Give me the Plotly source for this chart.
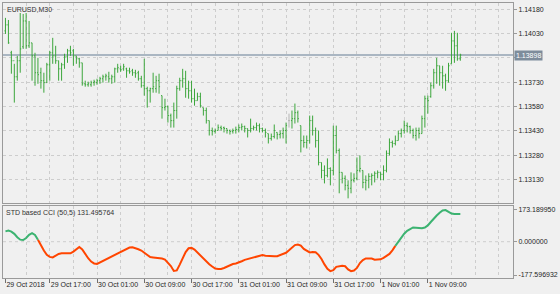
import plotly.graph_objects as go

# ---------------- data ----------------
SYMBOL_TITLE = "EURUSD,M30"
IND_TITLE = "STD based CCI (50,5) 131.495764"

OPEN = [1.14047, 1.14084, 1.13912, 1.13863, 1.13764, 1.13863, 1.13949, 1.14108, 1.13955, 1.13973,
        1.13893, 1.13789, 1.13789, 1.13740, 1.13728, 1.13838, 1.13912, 1.13893, 1.13863, 1.13813,
        1.13838, 1.13887, 1.13924, 1.13924, 1.13893, 1.13875, 1.13850, 1.13721, 1.13715, 1.13715,
        1.13728, 1.13728, 1.13740, 1.13752, 1.13764, 1.13764, 1.13752, 1.13764, 1.13813, 1.13813,
        1.13813, 1.13813, 1.13801, 1.13801, 1.13789, 1.13789, 1.13752, 1.13709, 1.13691, 1.13678,
        1.13691, 1.13691, 1.13740, 1.13648, 1.13574, 1.13580, 1.13525, 1.13494, 1.13556, 1.13691,
        1.13740, 1.13752, 1.13691, 1.13678, 1.13629, 1.13617, 1.13642, 1.13574, 1.13556, 1.13494,
        1.13433, 1.13427, 1.13433, 1.13451, 1.13451, 1.13445, 1.13433, 1.13427, 1.13433, 1.13439,
        1.13451, 1.13457, 1.13445, 1.13433, 1.13445, 1.13451, 1.13463, 1.13445, 1.13433, 1.13414,
        1.13384, 1.13396, 1.13421, 1.13408, 1.13414, 1.13433, 1.13494, 1.13494, 1.13506, 1.13543,
        1.13463, 1.13371, 1.13359, 1.13371, 1.13494, 1.13433, 1.13371, 1.13236, 1.13187, 1.13156,
        1.13199, 1.13187, 1.13402, 1.13310, 1.13175, 1.13138, 1.13095, 1.13077, 1.13126, 1.13138,
        1.13187, 1.13187, 1.13113, 1.13126, 1.13150, 1.13156, 1.13169, 1.13175, 1.13163, 1.13187,
        1.13292, 1.13359, 1.13353, 1.13371, 1.13414, 1.13433, 1.13463, 1.13457, 1.13433, 1.13402,
        1.13433, 1.13414, 1.13506, 1.13629, 1.13642, 1.13709, 1.13789, 1.13832, 1.13789, 1.13770,
        1.13740, 1.13844, 1.13985, 1.13955, 1.13875]

HIGH = [1.14127, 1.14114, 1.13924, 1.13844, 1.13893, 1.14157, 1.14151, 1.14157, 1.14108, 1.13973,
        1.13912, 1.13881, 1.13820, 1.13789, 1.13850, 1.13924, 1.14004, 1.13955, 1.13863, 1.13850,
        1.13906, 1.13936, 1.13955, 1.13936, 1.13893, 1.13881, 1.13850, 1.13740, 1.13734, 1.13740,
        1.13746, 1.13752, 1.13764, 1.13777, 1.13783, 1.13795, 1.13777, 1.13820, 1.13844, 1.13832,
        1.13844, 1.13820, 1.13820, 1.13813, 1.13807, 1.13801, 1.13770, 1.13875, 1.13703, 1.13697,
        1.13789, 1.13770, 1.13783, 1.13648, 1.13629, 1.13586, 1.13537, 1.13605, 1.13709, 1.13758,
        1.13813, 1.13801, 1.13740, 1.13740, 1.13691, 1.13666, 1.13666, 1.13574, 1.13574, 1.13494,
        1.13451, 1.13445, 1.13470, 1.13463, 1.13457, 1.13445, 1.13439, 1.13445, 1.13457, 1.13470,
        1.13476, 1.13463, 1.13445, 1.13506, 1.13463, 1.13482, 1.13476, 1.13451, 1.13445, 1.13414,
        1.13414, 1.13470, 1.13421, 1.13433, 1.13451, 1.13482, 1.13537, 1.13556, 1.13599, 1.13556,
        1.13463, 1.13402, 1.13402, 1.13525, 1.13525, 1.13451, 1.13433, 1.13236, 1.13218, 1.13261,
        1.13206, 1.13463, 1.13463, 1.13322, 1.13175, 1.13156, 1.13126, 1.13175, 1.13169, 1.13267,
        1.13279, 1.13187, 1.13156, 1.13169, 1.13169, 1.13181, 1.13187, 1.13175, 1.13218, 1.13310,
        1.13384, 1.13371, 1.13402, 1.13433, 1.13445, 1.13494, 1.13482, 1.13463, 1.13445, 1.13451,
        1.13451, 1.13525, 1.13648, 1.13648, 1.13728, 1.13813, 1.13881, 1.13832, 1.13832, 1.13783,
        1.13850, 1.14035, 1.14047, 1.14035, 1.13906]

LOW = [1.14028, 1.13967, 1.13783, 1.13605, 1.13740, 1.13789, 1.13936, 1.13936, 1.13942, 1.13740,
       1.13709, 1.13721, 1.13691, 1.13666, 1.13728, 1.13740, 1.13844, 1.13844, 1.13740, 1.13740,
       1.13813, 1.13850, 1.13893, 1.13832, 1.13844, 1.13820, 1.13709, 1.13703, 1.13703, 1.13703,
       1.13709, 1.13715, 1.13721, 1.13728, 1.13740, 1.13728, 1.13721, 1.13728, 1.13789, 1.13795,
       1.13801, 1.13758, 1.13783, 1.13770, 1.13758, 1.13740, 1.13697, 1.13648, 1.13574, 1.13605,
       1.13666, 1.13666, 1.13660, 1.13506, 1.13556, 1.13482, 1.13451, 1.13451, 1.13506, 1.13678,
       1.13697, 1.13635, 1.13629, 1.13605, 1.13586, 1.13617, 1.13574, 1.13525, 1.13476, 1.13402,
       1.13402, 1.13414, 1.13433, 1.13433, 1.13421, 1.13414, 1.13408, 1.13414, 1.13414, 1.13421,
       1.13433, 1.13421, 1.13390, 1.13421, 1.13433, 1.13433, 1.13421, 1.13421, 1.13390, 1.13353,
       1.13371, 1.13384, 1.13378, 1.13384, 1.13384, 1.13353, 1.13451, 1.13445, 1.13476, 1.13482,
       1.13298, 1.13328, 1.13322, 1.13353, 1.13402, 1.13328, 1.13218, 1.13138, 1.13107, 1.13144,
       1.13095, 1.13156, 1.13292, 1.13046, 1.13107, 1.13064, 1.13015, 1.13046, 1.13113, 1.13126,
       1.13175, 1.13077, 1.13064, 1.13077, 1.13095, 1.13113, 1.13138, 1.13126, 1.13126, 1.13175,
       1.13279, 1.13328, 1.13341, 1.13371, 1.13390, 1.13414, 1.13421, 1.13414, 1.13384, 1.13371,
       1.13384, 1.13414, 1.13451, 1.13537, 1.13635, 1.13691, 1.13721, 1.13709, 1.13691, 1.13678,
       1.13728, 1.13844, 1.13850, 1.13863, 1.13863]

CLOSE = [1.14084, 1.13973, 1.13863, 1.13764, 1.13863, 1.13936, 1.14108, 1.13955, 1.13973, 1.13893,
         1.13789, 1.13777, 1.13740, 1.13728, 1.13838, 1.13912, 1.13893, 1.13863, 1.13813, 1.13838,
         1.13887, 1.13924, 1.13912, 1.13893, 1.13875, 1.13850, 1.13721, 1.13715, 1.13721, 1.13728,
         1.13734, 1.13740, 1.13752, 1.13764, 1.13770, 1.13752, 1.13764, 1.13813, 1.13820, 1.13807,
         1.13826, 1.13801, 1.13795, 1.13789, 1.13783, 1.13752, 1.13709, 1.13691, 1.13678, 1.13691,
         1.13703, 1.13740, 1.13703, 1.13574, 1.13580, 1.13525, 1.13494, 1.13556, 1.13691, 1.13740,
         1.13752, 1.13691, 1.13678, 1.13629, 1.13617, 1.13642, 1.13586, 1.13556, 1.13494, 1.13433,
         1.13427, 1.13433, 1.13451, 1.13445, 1.13445, 1.13433, 1.13427, 1.13433, 1.13439, 1.13451,
         1.13457, 1.13445, 1.13433, 1.13445, 1.13451, 1.13463, 1.13445, 1.13433, 1.13421, 1.13384,
         1.13396, 1.13433, 1.13408, 1.13414, 1.13433, 1.13463, 1.13494, 1.13506, 1.13543, 1.13506,
         1.13371, 1.13359, 1.13371, 1.13494, 1.13433, 1.13371, 1.13236, 1.13187, 1.13156, 1.13199,
         1.13187, 1.13402, 1.13310, 1.13175, 1.13138, 1.13095, 1.13077, 1.13126, 1.13138, 1.13187,
         1.13199, 1.13113, 1.13126, 1.13150, 1.13156, 1.13169, 1.13175, 1.13163, 1.13187, 1.13292,
         1.13359, 1.13353, 1.13371, 1.13414, 1.13433, 1.13463, 1.13457, 1.13433, 1.13402, 1.13433,
         1.13414, 1.13506, 1.13629, 1.13617, 1.13709, 1.13789, 1.13832, 1.13789, 1.13770, 1.13740,
         1.13832, 1.13985, 1.13955, 1.13875, 1.13898]

CCI = [55, 60, 54, 42, 24, 11, 9, 20, 37, 46,
       36, 10, -20, -47, -70, -81, -84, -75, -65, -62,
       -62, -62, -62, -53, -38, -28, -41, -68, -88, -106,
       -116, -118, -110, -100, -91, -84, -78, -71, -63, -54,
       -44, -35, -31, -30, -34, -40, -47, -58, -72, -82,
       -84, -85, -88, -90, -95, -110, -130, -156, -153, -122,
       -90, -55, -35, -33, -42, -58, -73, -89, -105, -120,
       -132, -143, -145, -145, -140, -132, -124, -119, -116, -112,
       -104, -97, -92, -87, -83, -79, -75, -71, -75, -77,
       -78, -78, -77, -72, -66, -59, -46, -30, -18, -15,
       -21, -38, -49, -57, -55, -56, -70, -92, -121, -145,
       -157, -152, -134, -130, -128, -131, -148, -157, -154, -140,
       -114, -98, -89, -89, -90, -96, -97, -94, -86, -77,
       -65, -46, -22, 2, 24, 43, 58, 68, 76, 75,
       74, 72, 76, 87, 105, 124, 140, 155, 167, 169,
       160, 150, 148, 148, 148]

TIME_TICK_BARS = [0, 15, 31, 47, 63, 79, 95, 111, 127, 143]
TIME_TICK_TEXT = ["29 Oct 2018", "29 Oct 17:00", "30 Oct 01:00", "30 Oct 09:00", "30 Oct 17:00",
                  "31 Oct 01:00", "31 Oct 09:00", "31 Oct 17:00", "1 Nov 01:00", "1 Nov 09:00"]
PRICE_TICKS = [1.14180, 1.14030, 1.13880, 1.13730, 1.13580, 1.13430, 1.13280, 1.13130]
CCI_TICKS = [173.189950, 0.0, -177.596932]

# ---------------- styling ----------------
BG = "#f0f0f0"
BORDER = "#9a9a9a"
GRID = "#cdcdcd"
BAR = "#3ca63c"
DOJI = "#b4b4b4"
UP = "#3cb371"
DN = "#ff4500"
TXT = "#262626"
FONT = "Liberation Sans"

n = len(CLOSE)
idx = list(range(n))
is_doji = [OPEN[i] == CLOSE[i] for i in idx]
last_close = CLOSE[-1]


def pick(arr, keep):
    return [arr[i] if keep[i] else None for i in idx]


norm = [not d for d in is_doji]

fig = go.Figure()
fig.add_trace(go.Ohlc(x=idx, open=pick(OPEN, norm), high=pick(HIGH, norm), low=pick(LOW, norm),
                      close=pick(CLOSE, norm), tickwidth=0.34,
                      increasing=dict(line=dict(color=BAR, width=1)),
                      decreasing=dict(line=dict(color=BAR, width=1)),
                      xaxis="x", yaxis="y", showlegend=False, hoverinfo="skip"))
fig.add_trace(go.Ohlc(x=idx, open=pick(OPEN, is_doji), high=pick(HIGH, is_doji), low=pick(LOW, is_doji),
                      close=pick(CLOSE, is_doji), tickwidth=0.34,
                      increasing=dict(line=dict(color=DOJI, width=1)),
                      decreasing=dict(line=dict(color=DOJI, width=1)),
                      xaxis="x", yaxis="y", showlegend=False, hoverinfo="skip"))

# indicator line coloured by sign (segment colour follows its end point)
g_vals = [CCI[i] if (CCI[i] >= 0 or (i + 1 < n and CCI[i + 1] >= 0)) else None for i in idx]
o_vals = [CCI[i] if (CCI[i] < 0 or (i + 1 < n and CCI[i + 1] < 0)) else None for i in idx]
fig.add_trace(go.Scatter(x=idx, y=o_vals, mode="lines", line=dict(color=DN, width=2),
                         xaxis="x2", yaxis="y2", showlegend=False, hoverinfo="skip", connectgaps=False))
fig.add_trace(go.Scatter(x=idx, y=g_vals, mode="lines", line=dict(color=UP, width=2),
                         xaxis="x2", yaxis="y2", showlegend=False, hoverinfo="skip", connectgaps=False))

# axis geometry: 3 px per bar, plot width 518 px
R0 = -5.0 / 6.0
R1 = R0 + 518.0 / 3.0
grid_bars = list(range(7, 172, 8))

common_x = dict(range=[R0, R1], showline=True, linecolor=BORDER, linewidth=1, mirror=True,
                zeroline=False, showgrid=False,
                minor=dict(tickmode="array", tickvals=grid_bars, showgrid=True, gridcolor=GRID,
                           griddash="3px,3px", gridwidth=1, ticks=""))

# the 1.13880 label sits under the bid-price box, as in the terminal
price_text = ["" if abs(v - last_close) < 0.0003 else "%.5f" % v for v in PRICE_TICKS]

fig.update_layout(
    width=560, height=294,
    margin=dict(l=2, r=40, t=2, b=16, pad=0),
    paper_bgcolor=BG, plot_bgcolor=BG,
    font=dict(family=FONT, size=7, color=TXT),
    showlegend=False,
    xaxis=dict(domain=[0, 1], anchor="y", showticklabels=False, ticks="",
               rangeslider=dict(visible=False), **common_x),
    yaxis=dict(domain=[0.2717, 1], anchor="x", side="right", range=[1.129845, 1.142187],
               tickmode="array", tickvals=PRICE_TICKS, ticktext=price_text,
               ticks="outside", ticklen=3, tickcolor=BORDER, tickfont=dict(size=7, color=TXT),
               showgrid=True, gridcolor=GRID, griddash="3px,3px", gridwidth=1,
               showline=True, linecolor=BORDER, mirror=True, zeroline=False),
    xaxis2=dict(domain=[0, 1], anchor="y2", matches="x", tickmode="array",
                tickvals=TIME_TICK_BARS, ticktext=TIME_TICK_TEXT, ticks="outside", ticklen=4,
                tickcolor="#707070", ticklabelposition="outside right", tickangle=0,
                tickfont=dict(size=7, color=TXT), **common_x),
    yaxis2=dict(domain=[0, 0.2627], anchor="x2", side="right", range=[-193.5, 191.8],
                tickmode="array", tickvals=CCI_TICKS, ticktext=["%.6f" % v for v in CCI_TICKS],
                ticks="outside", ticklen=3, tickcolor=BORDER, tickfont=dict(size=7, color=TXT),
                showgrid=False, showline=True, linecolor=BORDER, mirror=True, zeroline=False),
)

# zero level (dashed) in the indicator window
fig.add_shape(type="line", xref="x2 domain", yref="y2", x0=0, x1=1, y0=0, y1=0,
              line=dict(color=GRID, width=1, dash="3px,3px"), layer="below")
# current bid line
fig.add_shape(type="line", xref="x domain", yref="y", x0=0, x1=1, y0=last_close, y1=last_close,
              line=dict(color="#aab6c2", width=2), layer="below")

fig.add_annotation(xref="paper", yref="y", x=1, y=last_close, xanchor="left", yanchor="middle",
                   xshift=1, text="%.5f" % last_close, showarrow=False, bgcolor="#7d8c9b",
                   borderpad=1, font=dict(size=7, color="white", family=FONT))
fig.add_annotation(xref="paper", yref="paper", x=0.004, y=0.998, xanchor="left", yanchor="top",
                   text=SYMBOL_TITLE, showarrow=False, font=dict(size=7, color="#333333"))
fig.add_annotation(xref="paper", yref="paper", x=0.002, y=0.258, xanchor="left", yanchor="top",
                   text=IND_TITLE, showarrow=False, font=dict(size=7, color="#333333"))

fig.write_html("out.html")
